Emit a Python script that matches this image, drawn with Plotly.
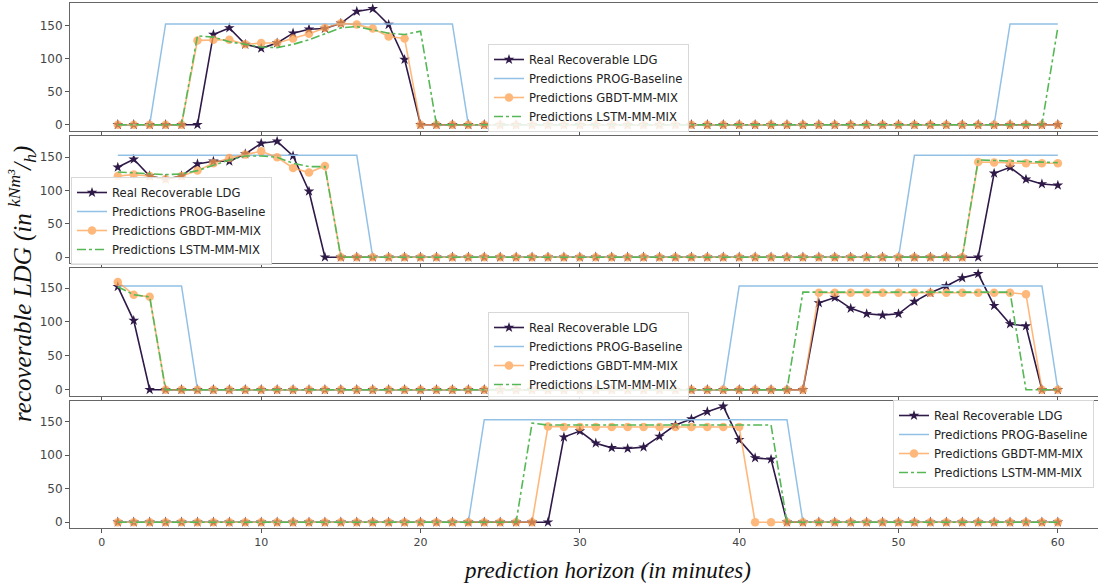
import plotly.graph_objects as go

x = list(range(1, 61))

def series(nonzero):
    v = [0.0] * 60
    for k, val in nonzero.items():
        v[k - 1] = val
    return v

# ---------------- Panel 1 ----------------
p1_real = series({7: 137, 8: 147, 9: 122, 10: 116, 11: 124, 12: 139, 13: 145, 14: 146,
                  15: 154, 16: 172, 17: 176, 18: 152, 19: 99})
p1_prog = series({**{k: 153 for k in range(4, 23)}, **{k: 153 for k in range(57, 61)}})
p1_gbdt = series({6: 128, 7: 129, 8: 129, 9: 122, 10: 124, 11: 124, 12: 131, 13: 138,
                  14: 147, 15: 154, 16: 152, 17: 146, 18: 134, 19: 131})
p1_lstm = series({6: 135, 7: 133, 8: 126, 9: 122, 10: 118, 11: 117, 12: 122, 13: 129,
                  14: 138, 15: 147, 16: 149, 17: 144, 18: 139, 19: 137, 20: 142, 60: 148})

# ---------------- Panel 2 ----------------
p2_real = series({1: 135, 2: 147, 3: 122, 4: 117, 5: 122, 6: 140, 7: 144, 8: 144, 9: 155,
                  10: 171, 11: 174, 12: 152, 13: 99, 56: 126, 57: 135, 58: 117, 59: 110, 60: 108})
p2_prog = series({**{k: 153 for k in range(1, 17)}, **{k: 153 for k in range(51, 61)}})
p2_gbdt = series({1: 122, 2: 124, 3: 122, 4: 117, 5: 122, 6: 130, 7: 141, 8: 149, 9: 154,
                  10: 159, 11: 150, 12: 134, 13: 127, 14: 137,
                  55: 143, 56: 142, 57: 141, 58: 141, 59: 141, 60: 141})
p2_lstm = series({1: 128, 2: 127, 3: 125, 4: 124, 5: 125, 6: 130, 7: 138, 8: 146, 9: 152,
                  10: 152, 11: 150, 12: 141, 13: 136, 14: 136,
                  55: 146, 56: 145, 57: 144, 58: 143, 59: 143, 60: 142})

# ---------------- Panel 3 ----------------
p3_real = series({1: 152, 2: 102, 45: 128, 46: 136, 47: 120, 48: 112, 49: 110, 50: 112,
                  51: 130, 52: 143, 53: 153, 54: 165, 55: 171, 56: 124, 57: 97, 58: 94})
p3_prog = series({**{k: 153 for k in range(1, 6)}, **{k: 153 for k in range(40, 60)}})
p3_gbdt = series({1: 159, 2: 140, 3: 137, **{k: 143 for k in range(45, 58)}, 58: 141})
p3_lstm = series({1: 152, 2: 140, 3: 137, **{k: 144 for k in range(44, 58)}})

# ---------------- Panel 4 ----------------
p4_real = series({29: 127, 30: 136, 31: 118, 32: 111, 33: 110, 34: 112, 35: 128, 36: 145,
                  37: 154, 38: 165, 39: 173, 40: 123, 41: 96, 42: 94})
p4_prog = series({k: 153 for k in range(24, 44)})
p4_gbdt = series({28: 143, **{k: 142 for k in range(29, 41)}})
p4_lstm = series({27: 148, **{k: 145 for k in range(28, 43)}})

panels = [
    (p1_real, p1_prog, p1_gbdt, p1_lstm),
    (p2_real, p2_prog, p2_gbdt, p2_lstm),
    (p3_real, p3_prog, p3_gbdt, p3_lstm),
    (p4_real, p4_prog, p4_gbdt, p4_lstm),
]

names = ["Real Recoverable LDG", "Predictions PROG-Baseline",
         "Predictions GBDT-MM-MIX", "Predictions LSTM-MM-MIX"]
y_ticks = [0, 50, 100, 150]
x_ticks = [0, 10, 20, 30, 40, 50, 60]

W, H = 1098, 588
# panel pixel extents (top, bottom)
extents = [(3, 130.5), (135.5, 263), (268, 395.5), (400.5, 528)]
legend_pos = [(488, 44), (71, 177), (488, 312), (893, 400)]

C_REAL = "#2f1a48"
C_PROG = "#93c1e6"
C_GBDT = "#ffa150"
C_LSTM = "#55b855"

fig = go.Figure()
ML = 70
PW = W - ML

for i, (real, prog, gbdt, lstm) in enumerate(panels):
    ax = "" if i == 0 else str(i + 1)
    xa, ya = "x" + ax, "y" + ax
    leg = "legend" + ("" if i == 0 else str(i + 1))
    fig.add_trace(go.Scatter(x=x, y=real, name=names[0], mode="lines+markers", xaxis=xa, yaxis=ya,
                             line=dict(color=C_REAL, width=1.6),
                             marker=dict(symbol="star", size=8, color=C_REAL), legend=leg))
    fig.add_trace(go.Scatter(x=x, y=prog, name=names[1], mode="lines", xaxis=xa, yaxis=ya,
                             line=dict(color=C_PROG, width=1.5), legend=leg))
    fig.add_trace(go.Scatter(x=x, y=gbdt, name=names[2], mode="lines+markers", xaxis=xa, yaxis=ya,
                             line=dict(color=C_GBDT, width=1.6), opacity=0.75,
                             marker=dict(symbol="circle", size=8.5, color=C_GBDT), legend=leg))
    fig.add_trace(go.Scatter(x=x, y=lstm, name=names[3], mode="lines", xaxis=xa, yaxis=ya,
                             line=dict(color=C_LSTM, width=1.6, dash="dashdot"), legend=leg))

    m = max(max(real), max(prog), max(gbdt), max(lstm))
    top, bot = extents[i]
    dom = [1 - bot / H, 1 - top / H]
    fig.update_layout(**{
        ("xaxis" + ax): dict(domain=[0, 1], range=[-2.0, 62.52], anchor=ya, automargin=False,
                             tickvals=x_ticks, showticklabels=(i == 3), ticks="outside",
                             ticklen=4, tickcolor="#555", showline=True, mirror=True,
                             linecolor="#666", linewidth=1, showgrid=False, zeroline=False,
                             tickfont=dict(family="DejaVu Sans", size=11, color="#444"),
                             **({} if i == 0 else {"matches": "x"})),
        ("yaxis" + ax): dict(domain=dom, range=[-0.05 * m, 1.05 * m], anchor=xa, automargin=False,
                             tickvals=y_ticks, ticks="outside", ticklen=4, tickcolor="#555",
                             showline=True, mirror=False, linecolor="#666", linewidth=1,
                             showgrid=False, zeroline=False,
                             tickfont=dict(family="DejaVu Sans", size=12, color="#444")),
        leg: dict(x=(legend_pos[i][0] - ML) / PW, y=1 - legend_pos[i][1] / H,
                  xanchor="left", yanchor="top", bgcolor="rgba(255,255,255,0.85)",
                  bordercolor="#d8d8d8", borderwidth=1, itemwidth=30,
                  font=dict(family="DejaVu Sans", size=11.6, color="#222"),
                  tracegroupgap=0),
    })

fig.add_annotation(text="<i>prediction horizon (in minutes)</i>", xref="paper", yref="paper",
                   x=(607 - ML) / PW, y=1 - 570 / H, showarrow=False, xanchor="center", yanchor="middle",
                   font=dict(family="Liberation Serif", size=23, color="#111"))
fig.add_annotation(text="<i>recoverable LDG (in <sup>kNm³</sup>/<sub>h</sub>)</i>", xref="paper", yref="paper",
                   x=(22 - ML) / PW, y=1 - 284 / H, showarrow=False, textangle=-90,
                   xanchor="center", yanchor="middle",
                   font=dict(family="Liberation Serif", size=25, color="#111"))

fig.update_layout(width=W, height=H, margin=dict(l=ML, r=0, t=0, b=0, autoexpand=False),
                  paper_bgcolor="white", plot_bgcolor="white", showlegend=True)

fig.write_html("out.html", config={"displayModeBar": False},
               post_script="document.body.style.margin='0';document.body.style.overflow='hidden';")
